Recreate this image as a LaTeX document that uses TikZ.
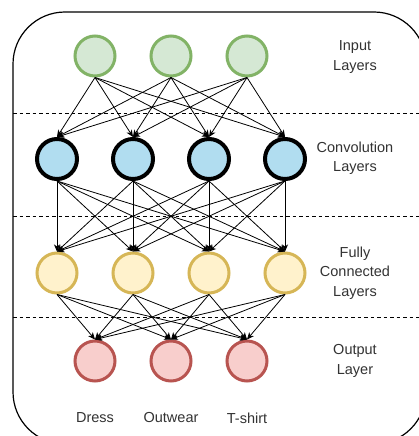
\documentclass[tikz,border=0pt]{standalone}
\usepackage{fontspec}
\setmainfont{Liberation Sans}
\usetikzlibrary{arrows.meta}
\definecolor{gfill}{HTML}{D5E8D4}\definecolor{gline}{HTML}{82B366}
\definecolor{bfill}{HTML}{B1DDF0}
\definecolor{yfill}{HTML}{FFF2CC}\definecolor{yline}{HTML}{D6B656}
\definecolor{rfill}{HTML}{F8CECC}\definecolor{rline}{HTML}{B85450}
\definecolor{txt}{HTML}{333333}
\begin{document}
\begin{tikzpicture}[x=1pt,y=-1pt,
  neuron/.style={circle,minimum size=40pt,inner sep=0pt},
  innode/.style={neuron,draw=gline,fill=gfill,line width=3pt},
  convnode/.style={neuron,draw=black,fill=bfill,line width=4pt},
  fcnode/.style={neuron,draw=yline,fill=yfill,line width=3pt},
  outnode/.style={neuron,draw=rline,fill=rfill,line width=3pt},
  conn/.style={-{Stealth[length=7pt,width=6pt,inset=2pt]},line width=0.8pt,black},
  sep/.style={dash pattern=on 3.5pt off 3pt,line width=0.9pt},
  lab/.style={align=center,font=\fontsize{14.5}{19.5}\selectfont,text=txt},
]
\useasboundingbox (0,0) rectangle (419,436);
\fill[white] (0,0) rectangle (419,436);
\begin{scope}
\clip (0,0) rectangle (419,436);
\draw[line width=1.2pt,rounded corners=52pt] (13,12) rectangle (426,444);
\end{scope}
\draw[sep] (13,113) -- (419,113);
\draw[sep] (13,216) -- (419,216);
\draw[sep] (13,317) -- (419,317);

\foreach \i/\x in {1/95,2/171,3/247} {
  \node[innode] (i\i) at (\x,56) {};
  \node[outnode] (o\i) at (\x,361) {};
}
\foreach \i/\x in {1/57,2/133,3/209,4/285} {
  \node[convnode] (c\i) at (\x,159) {};
  \node[fcnode] (f\i) at (\x,273) {};
}
\foreach \a in {1,2,3} \foreach \b in {1,2,3,4} {
  \draw[conn] (i\a.south) -- (c\b.north);
  \draw[conn] (f\b.south) -- (o\a.north);
}
\foreach \a in {1,2,3,4} \foreach \b in {1,2,3,4} {
  \draw[conn] (c\a.south) -- (f\b.north);
}

\node[lab] (l1) at (355,57) {Input\\Layers};
\node[lab] (l2) at (355,158) {Convolution\\Layers};
\node[lab] (l3) at (355,273) {Fully\\Connected\\Layers};
\node[lab] (l4) at (355,361) {Output\\Layer};
\node[lab] (t1) at (95,418) {Dress};
\node[lab] (t2) at (171,418) {Outwear};
\node[lab] (t3) at (247,418) {T-shirt};
\end{tikzpicture}
\end{document}
